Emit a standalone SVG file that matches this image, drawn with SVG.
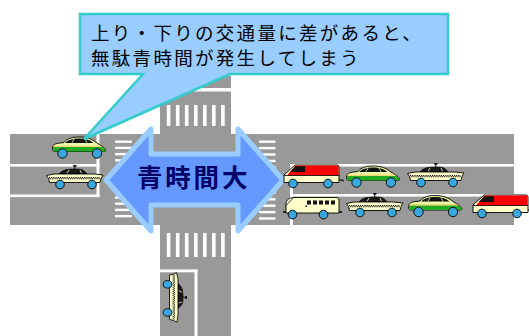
<svg xmlns="http://www.w3.org/2000/svg" width="529" height="336" viewBox="0 0 529 336">
  <style>
    .road{fill:#999999}
    .mark{fill:#ffffff}
    .ol{stroke:#000;stroke-width:0.9;stroke-linejoin:round}
    .wheel{fill:#3AA6DE;stroke:#000;stroke-width:0.9}
    .cream{fill:#FFFFCC}
    .callout{fill:#99CCFF;stroke:#33CCCC;stroke-width:2.5;stroke-linejoin:miter}
    .note{font-family:"Noto Sans CJK JP","Noto Sans CJK SC",sans-serif;font-size:18.5px;letter-spacing:2.3px;fill:#000}
    .big{font-family:"Noto Sans CJK JP","Noto Sans CJK SC",sans-serif;font-size:25.5px;font-weight:bold;letter-spacing:2.8px;fill:#000066}
  </style>
  <defs>
    <!-- rounded fastback sedan, green trim -->
    <g id="sedan">
      <path class="ol" fill="#EEF8A8" d="M0.5,12 C0.5,9 3,7.5 8,7 L12,6.5 C15,3 19,1 27,1 C35,1 40,3 45,7 C48,9 52,11 54,14 L53,15.5 L2,15.5 C1,15 0.5,14 0.5,12 Z"/>
      <path fill="#111" d="M13,7 C16,4 20,2.5 27,2.5 C34,2.5 38,4 41.5,7 Z"/>
      <path d="M20,6.8 L22,3 M33,3 L35,6.8" stroke="#EEF8A8" stroke-width="0.8"/>
      <path fill="#22AA22" d="M1,11 L50,11 C52,12 53,13 53.5,14 L53,15.5 L2,15.5 C1,14.5 0.8,12.5 1,11 Z"/>
      <path d="M1.5,10.2 H50" stroke="#E8C040" stroke-width="0.7"/>
      <circle class="wheel" cx="10.5" cy="17.5" r="4.7"/>
      <circle class="wheel" cx="45" cy="17.5" r="4.7"/>
    </g>
    <!-- taxi with roof sign and checker band -->
    <g id="taxi">
      <path d="M28.5,4.5 L29,0.8" stroke="#000" stroke-width="0.9"/>
      <rect x="27.3" y="0" width="3.2" height="1.6" fill="#000"/>
      <path fill="#1a1a1a" class="ol" d="M13,9 C16,5.5 20,4.2 26,4.2 L33,4.2 C36,4.2 39,6 41,9 Z"/>
      <path d="M21,8.6 L23,4.8 M34,4.8 L35.5,8.6" stroke="#FFFFCC" stroke-width="0.8"/>
      <path class="cream ol" d="M0.5,10.5 L8,9 L48,9 L57,10 L55,13.5 L54,17.5 L3.5,17.5 L2.5,13.5 Z"/>
      <path d="M3,12.6 H54" stroke="#000" stroke-width="1.1" stroke-dasharray="1.1 1.1"/>
      <path d="M3,13.8 H54" stroke="#000" stroke-width="1.1" stroke-dasharray="1.1 1.1" stroke-dashoffset="1.1"/>
      <circle class="wheel" cx="14" cy="19.5" r="4.3"/>
      <circle class="wheel" cx="46" cy="19.5" r="4.3"/>
    </g>
    <!-- red-topped delivery van -->
    <g id="van">
      <path class="cream ol" d="M1,18.5 L1,11 L12,1 L54,1 Q56,1 56,3 L56,18.5 Z"/>
      <path fill="#FF0000" d="M12.3,1.5 L55.5,1.5 L55.5,11.5 L4,11.5 Z"/>
      <path fill="#111" d="M7,8 L12.5,2.2 L22,2.2 L22,8 Z"/>
      <path d="M1,11.5 H56" stroke="#000" stroke-width="0.8"/>
      <path d="M56,16 H60 V17.5" stroke="#000" stroke-width="1.1" fill="none"/>
      <circle class="wheel" cx="10" cy="19.5" r="4.3"/>
      <circle class="wheel" cx="45" cy="19.5" r="4.3"/>
    </g>
    <!-- cream minibus -->
    <g id="bus">
      <path class="cream ol" d="M3,17 L3,8 C3,4 6,1.5 12,1.5 L53,1.5 C55,1.5 56,2.5 56,4 L56,17 Z"/>
      <path d="M3,9.5 L10,2.2" stroke="#000" stroke-width="0.8"/>
      <rect x="24" y="4.5" width="4" height="4" fill="#111"/>
      <rect x="30" y="4.5" width="4" height="4" fill="#111"/>
      <rect x="36" y="4.5" width="4" height="4" fill="#111"/>
      <rect x="42" y="4.5" width="4" height="4" fill="#111"/>
      <rect x="48" y="4.5" width="4" height="4" fill="#111"/>
      <rect x="22.5" y="9.5" width="1.5" height="1.5" fill="#111"/>
      <path d="M0,16 H3 M56,16 H59" stroke="#000" stroke-width="1.6"/>
      <circle class="wheel" cx="9.5" cy="18.6" r="4.3"/>
      <circle class="wheel" cx="40.5" cy="18.6" r="4.3"/>
    </g>
  </defs>

  <!-- carriageways -->
  <g id="roads">
    <rect class="road" x="10" y="134" width="504" height="91"/>
    <rect class="road" x="160" y="76" width="71" height="260"/>
  </g>

  <!-- lane lines and stop lines -->
  <g id="markings">
    <rect class="mark" x="160" y="88" width="71" height="3.5"/>
    <rect class="mark" x="10" y="164" width="89.5" height="2.6"/>
    <rect class="mark" x="10" y="194.5" width="89.5" height="2.6"/>
    <rect class="mark" x="96.5" y="134" width="3" height="63.1"/>
    <rect class="mark" x="290" y="164" width="224" height="2.6"/>
    <rect class="mark" x="290" y="194" width="224" height="2.6"/>
    <rect class="mark" x="290" y="164" width="3" height="61"/>
    <rect class="mark" x="160" y="269.5" width="37.5" height="2.8"/>
    <rect class="mark" x="194.5" y="269.5" width="3" height="66.5"/>
  </g>

  <!-- zebra crossings -->
  <g id="crosswalks" class="mark">
    <rect x="166.8" y="105" width="3.6" height="21"/>
    <rect x="175.9" y="105" width="3.6" height="21"/>
    <rect x="184.9" y="105" width="3.6" height="21"/>
    <rect x="194" y="105" width="3.6" height="21"/>
    <rect x="203" y="105" width="3.6" height="21"/>
    <rect x="212" y="105" width="3.6" height="21"/>
    <rect x="221.1" y="105" width="3.6" height="21"/>
    <rect x="166.8" y="233" width="3.6" height="24"/>
    <rect x="175.9" y="233" width="3.6" height="24"/>
    <rect x="184.9" y="233" width="3.6" height="24"/>
    <rect x="194" y="233" width="3.6" height="24"/>
    <rect x="203" y="233" width="3.6" height="24"/>
    <rect x="212" y="233" width="3.6" height="24"/>
    <rect x="221.1" y="233" width="3.6" height="24"/>
    <rect x="115" y="140.5" width="17" height="2.4"/>
    <rect x="115" y="146.7" width="17" height="2.4"/>
    <rect x="115" y="152.9" width="17" height="2.4"/>
    <rect x="115" y="159.1" width="17" height="2.4"/>
    <rect x="115" y="165.3" width="17" height="2.4"/>
    <rect x="115" y="171.5" width="17" height="2.4"/>
    <rect x="115" y="177.7" width="17" height="2.4"/>
    <rect x="115" y="183.9" width="17" height="2.4"/>
    <rect x="115" y="190.1" width="17" height="2.4"/>
    <rect x="115" y="196.3" width="17" height="2.4"/>
    <rect x="115" y="202.5" width="17" height="2.4"/>
    <rect x="115" y="208.7" width="17" height="2.4"/>
    <rect x="115" y="214.9" width="17" height="2.4"/>
    <rect x="259" y="140.5" width="16.5" height="2.4"/>
    <rect x="259" y="146.9" width="16.5" height="2.4"/>
    <rect x="259" y="153.3" width="16.5" height="2.4"/>
    <rect x="259" y="159.7" width="16.5" height="2.4"/>
    <rect x="259" y="166.1" width="16.5" height="2.4"/>
    <rect x="259" y="172.5" width="16.5" height="2.4"/>
    <rect x="259" y="178.9" width="16.5" height="2.4"/>
    <rect x="259" y="185.3" width="16.5" height="2.4"/>
    <rect x="259" y="191.7" width="16.5" height="2.4"/>
    <rect x="259" y="198.1" width="16.5" height="2.4"/>
    <rect x="259" y="204.5" width="16.5" height="2.4"/>
    <rect x="259" y="210.9" width="16.5" height="2.4"/>
    <rect x="259" y="217.3" width="16.5" height="2.4"/>
  </g>

  <!-- double-headed arrow across the junction -->
  <g id="green-time">
    <path d="M106,180 L151,129 L151,154 L238,154 L238,129 L283,180 L238,231 L238,205 L151,205 L151,231 Z" fill="#6699FF" stroke="#99CCFF" stroke-width="5" stroke-linejoin="round"/>
    <text class="big" x="137" y="187">青時間大</text>
  </g>

  <!-- vehicles -->
  <g id="vehicles">
    <use href="#sedan" transform="translate(52,136)"/>
    <use href="#taxi" transform="translate(46,165)"/>
    <use href="#van" transform="translate(283,164)"/>
    <use href="#sedan" transform="translate(346,165)"/>
    <use href="#taxi" transform="translate(407,163)"/>
    <use href="#bus" transform="translate(283,196)"/>
    <use href="#taxi" transform="translate(346,193)"/>
    <use href="#sedan" transform="translate(408,194.5)"/>
    <use href="#van" transform="translate(472,194)"/>
    <use href="#taxi" transform="translate(187,272) rotate(90) scale(0.88,1)"/>
  </g>

  <!-- speech balloon -->
  <g id="note">
    <path class="callout" d="M80,14 H448 V74 H230 L84,139 L143,74 H80 Z"/>
    <text class="note" x="91" y="39.5">上り・下りの交通量に差があると、</text>
    <text class="note" x="91" y="64.5">無駄青時間が発生してしまう</text>
  </g>
</svg>
